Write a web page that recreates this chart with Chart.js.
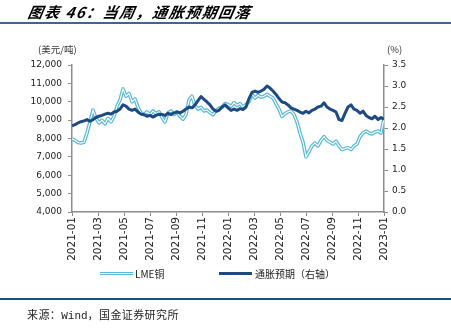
<!DOCTYPE html>
<html>
<head>
<meta charset="utf-8">
<script src="https://cdn.jsdelivr.net/npm/chart.js@4/dist/chart.umd.min.js"></script>
<style>
  html,body{margin:0;padding:0;background:#fff;}
  #wrap{position:relative;width:451px;height:331px;overflow:hidden;background:#fff;}
  canvas{position:absolute;left:0;top:0;}
  .t{position:absolute;white-space:nowrap;color:#000;}
  #title{left:28px;top:2px;font-family:"Noto Sans CJK SC",sans-serif;font-weight:bold;font-style:italic;font-size:15px;letter-spacing:1.5px;line-height:20px;transform:skewX(-10deg);}
  #topline{position:absolute;left:0;top:22px;width:451px;height:2px;background:#3B6790;}
  #botline{position:absolute;left:0;top:298px;width:451px;height:2px;background:#1F4E79;}
  .unit{font-family:"Noto Sans CJK SC",sans-serif;font-size:9.5px;line-height:12px;color:#333;}
  .leg{font-family:"Noto Sans CJK SC",sans-serif;font-size:10px;line-height:12px;color:#222;}
  #foot{left:27px;top:306px;font-family:"Noto Sans CJK SC",sans-serif;font-size:11px;line-height:16px;letter-spacing:0.4px;color:#222;}
  #foot span{font-family:"Liberation Mono","DejaVu Sans Mono",monospace;font-size:11px;letter-spacing:0;}
</style>
</head>
<body>
<div id="wrap">
  <canvas id="c" width="451" height="331"></canvas>
  <div class="t" id="title">图表 46：当周，通胀预期回落</div>
  <div id="topline"></div>
  <div class="t unit" style="left:38px;top:43px;">(美元/吨)</div>
  <div class="t unit" style="left:387px;top:43px;">(%)</div>
  <div style="position:absolute;left:100px;top:272px;width:33px;height:1px;background:#fff;border-top:1.5px solid #5CBAD6;border-bottom:1.5px solid #5CBAD6;"></div>
  <div class="t leg" style="left:135px;top:268px;">LME铜</div>
  <div style="position:absolute;left:219px;top:272px;width:33px;height:3px;background:#1E4A84;"></div>
  <div class="t leg" style="left:255px;top:268px;">通胀预期（右轴）</div>
  <div id="botline"></div>
  <div class="t" id="foot">来源：<span>Wind</span>，国金证券研究所</div>
</div>
<script>
// x tick labels (every two months)
const xTickLabels = ['2021-01','2021-03','2021-05','2021-07','2021-09','2021-11','2022-01','2022-03','2022-05','2022-07','2022-09','2022-11','2023-01'];

// LME copper, USD/ton (weekly readings, 2021-01 .. 2023-01)
const lmeCopper = [
  7980,7900,7780,7750,7800,8300,8900,9550,9100,8850,
  9000,8800,9100,8900,9200,9750,10100,10700,10300,10450,
  10000,10150,9700,9400,9300,9450,9300,9500,9350,9450,
  9150,8900,9400,9500,9300,9450,9200,9050,9300,10100,
  10300,9800,9600,9700,9500,9550,9400,9300,9500,9650,
  9700,9900,9850,9750,9950,9800,9900,9700,9850,10000,
  10400,10200,10350,10250,10300,10400,10300,10200,9900,9600,
  9200,9350,9450,9500,9300,8900,8300,7800,7000,7300,
  7600,7750,7600,7900,8100,7900,7800,7700,7850,7600,
  7400,7450,7500,7400,7600,7700,8100,8300,8400,8300,
  8250,8350,8400,8300,9100
];

// Inflation expectation, % (right axis)
const inflationExp = [
  2.05,2.08,2.12,2.15,2.17,2.20,2.16,2.20,2.25,2.28,
  2.30,2.33,2.35,2.33,2.38,2.40,2.45,2.55,2.52,2.45,
  2.42,2.45,2.38,2.33,2.32,2.28,2.30,2.26,2.30,2.33,
  2.32,2.30,2.35,2.32,2.36,2.38,2.36,2.40,2.45,2.50,
  2.48,2.55,2.65,2.75,2.68,2.62,2.55,2.45,2.40,2.42,
  2.50,2.55,2.48,2.42,2.45,2.42,2.46,2.44,2.50,2.70,
  2.85,2.88,2.85,2.88,2.92,3.00,2.95,2.88,2.80,2.70,
  2.62,2.60,2.55,2.48,2.45,2.42,2.38,2.35,2.40,2.36,
  2.42,2.45,2.50,2.52,2.60,2.50,2.45,2.42,2.38,2.20,
  2.18,2.35,2.50,2.55,2.45,2.42,2.35,2.40,2.30,2.25,
  2.22,2.28,2.20,2.25,2.20
];

const MONTHS = 24;
const toXY = arr => arr.map((v, i) => ({x: i * MONTHS / (arr.length - 1), y: v}));

const copperColor = '#5CBAD6';
const darkColor = '#1E4A84';
const axisColor = '#8C8C8C';

new Chart(document.getElementById('c'), {
  type: 'line',
  data: {
    datasets: [
      {label:'通胀预期（右轴）', data: toXY(inflationExp), yAxisID:'y1', borderColor: darkColor, borderWidth: 3, pointRadius: 0, order: 0, borderJoinStyle:'round'},
      {label:'LME铜 inner', data: toXY(lmeCopper), yAxisID:'y', borderColor: '#ffffff', borderWidth: 1.1, pointRadius: 0, order: 1},
      {label:'LME铜', data: toXY(lmeCopper), yAxisID:'y', borderColor: copperColor, borderWidth: 3.6, pointRadius: 0, order: 2, borderJoinStyle:'round'}
    ]
  },
  options: {
    responsive: false,
    animation: false,
    devicePixelRatio: 1,
    layout: {padding: {left: 0, right: 0, top: 65, bottom: 69}},
    plugins: {legend: {display: false}, tooltip: {enabled: false}},
    scales: {
      x: {
        type: 'linear', min: 0, max: MONTHS,
        afterBuildTicks(s){ s.ticks = xTickLabels.map((_, i) => ({value: i * 2})); },
        ticks: {autoSkip: false, maxRotation: 90, minRotation: 90, padding: 1,
          font: {family: 'DejaVu Sans', size: 10.5}, color: '#222',
          callback: (v) => xTickLabels[Math.round(v / 2)]},
        grid: {drawOnChartArea: false, tickLength: 4, color: axisColor},
        border: {color: axisColor, width: 1.5},
        afterFit(s){ s.height = 50; }
      },
      y: {
        position: 'left', min: 4000, max: 12000,
        ticks: {stepSize: 1000, padding: 6, font: {family: 'DejaVu Sans', size: 9}, color: '#222',
          callback: v => v.toLocaleString('en-US')},
        grid: {drawOnChartArea: false, tickLength: 4, color: axisColor},
        border: {color: axisColor, width: 1.5},
        afterFit(s){ s.width = 72; }
      },
      y1: {
        position: 'right', min: 0, max: 3.5,
        ticks: {stepSize: 0.5, padding: 4, font: {family: 'DejaVu Sans', size: 9}, color: '#222',
          callback: v => v.toFixed(1)},
        grid: {drawOnChartArea: false, tickLength: 4, color: axisColor},
        border: {color: axisColor, width: 1.5},
        afterFit(s){ s.width = 67; }
      }
    }
  }
});
</script>
</body>
</html>
